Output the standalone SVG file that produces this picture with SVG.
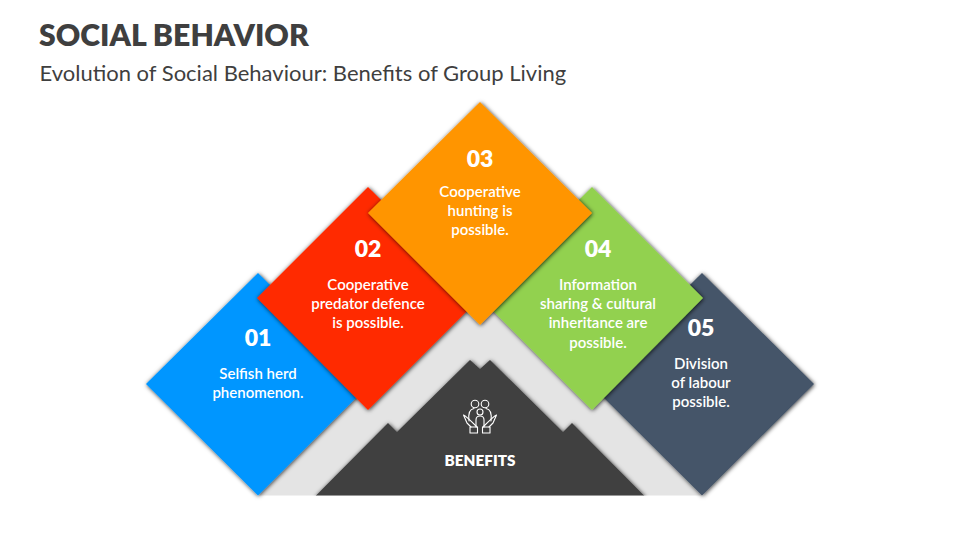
<svg xmlns="http://www.w3.org/2000/svg" width="960" height="540" viewBox="0 0 960 540">
<style>
text{font-family:"Lato","Open Sans","Liberation Sans",sans-serif;text-anchor:middle;fill:#fff}
.t{font-size:15px;font-weight:600}
.n{font-size:23px;font-weight:800}
.d{filter:url(#s)}
.i{fill:none;stroke:#fff;stroke-width:1.1;stroke-linejoin:round;stroke-linecap:round}
</style>
<defs>
<filter id="s" x="-10%" y="-10%" width="120%" height="120%"><feDropShadow dx="0.7" dy="0.7" stdDeviation="2" flood-color="#000" flood-opacity="0.8"/></filter>
<clipPath id="c"><rect x="0" y="0" width="960" height="495.5"/></clipPath>
</defs>
<rect width="960" height="540" fill="#fff"/>
<text id="title" x="39" y="46" style="text-anchor:start;fill:#3f3f3f;font-size:30.200px;font-weight:800">SOCIAL BEHAVIOR</text>
<text id="subtitle" x="39.500" y="81" style="text-anchor:start;fill:#3f3f3f;font-size:22px">Evolution of Social Behaviour: Benefits of Group Living</text>
<g id="connectors"></g>
<g id="band"><polygon points="258,495.5 480,273 702,495.5" fill="#e4e4e4"/></g>
<g id="benefits">
<g clip-path="url(#c)"><polygon class="d" points="316,495.5 388,423 397,432 470,360 480,369 490,360 563,432 572,423 644,495.5 644,510 316,510" fill="#404040"/></g>
<g class="i">
<circle cx="475" cy="404" r="3.8"/><circle cx="485" cy="404" r="3.8"/><circle cx="480" cy="412" r="3"/>
<path d="M469 421C468 413 470 409 474 408.500M491 421C492 413 490 409 486 408.500"/>
<path d="M476 427V420C476 417 478 416 480 416C482 416 484 417 484 420V427"/>
<path d="M463.500 415L467 423L471 427M463.500 415C466 416 472 422 476 426L477 427M496.500 415L493 423L489 427M496.500 415C494 416 488 422 484 426L483 427"/>
<rect x="470" y="427" width="7.500" height="6"/><rect x="482.500" y="427" width="7.500" height="6"/>
</g>
<text x="480" y="465.500" style="font-size:15.300px;font-weight:800">BENEFITS</text>
</g>
<g id="node01"><polygon class="d" points="258,273 370,384 258,495.500 146,384" fill="#0096ff"/>
<text class="n" x="258" y="346">01</text><text class="t" x="258" y="379">Selfish herd</text><text class="t" x="258" y="398">phenomenon.</text></g>
<g id="node05"><polygon class="d" points="702,273 814,384 702,495.500 590,384" fill="#445469"/>
<text class="n" x="701" y="336">05</text><text class="t" x="701" y="369">Division</text><text class="t" x="701" y="388">of labour</text><text class="t" x="701" y="407">possible.</text></g>
<g id="node02"><polygon class="d" points="368,187 480,298 368,410 257,298" fill="#ff2a00"/>
<text class="n" x="368" y="256.500">02</text><text class="t" x="368" y="290">Cooperative</text><text class="t" x="368" y="309">predator defence</text><text class="t" x="368" y="328">is possible.</text></g>
<g id="node04"><polygon class="d" points="592,187 703,298 592,410 480,298" fill="#92d14f"/>
<text class="n" x="598" y="256.500">04</text><text class="t" x="598" y="290">Information</text><text class="t" x="598" y="309">sharing &amp; cultural</text><text class="t" x="598" y="328">inheritance are</text><text class="t" x="598" y="348">possible.</text></g>
<g id="node03"><polygon class="d" points="480,102 592,213 480,325 368,213" fill="#ff9500"/>
<text class="n" x="480" y="166.500">03</text><text class="t" x="480" y="197">Cooperative</text><text class="t" x="480" y="216">hunting is</text><text class="t" x="480" y="235">possible.</text></g>
</svg>
